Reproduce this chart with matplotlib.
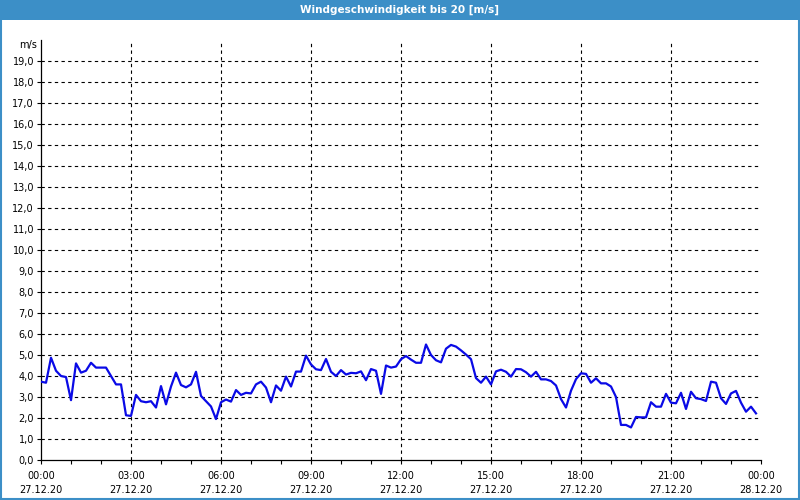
import matplotlib
matplotlib.use("Agg")
import matplotlib.pyplot as plt
import matplotlib.transforms as mtransforms
from matplotlib.patches import Rectangle
import numpy as np

# wind speed in m/s, 10-minute values from 00:00 to 23:50
wind = [3.73, 3.68, 4.87, 4.25, 4.0, 3.95, 2.85, 4.6, 4.16, 4.25,
        4.63, 4.4, 4.4, 4.4, 4.0, 3.6, 3.6, 2.13, 2.1, 3.1,
        2.8, 2.75, 2.8, 2.5, 3.52, 2.65, 3.5, 4.16, 3.57, 3.46,
        3.6, 4.2, 3.05, 2.8, 2.55, 1.95, 2.75, 2.88, 2.78, 3.33,
        3.1, 3.2, 3.17, 3.6, 3.73, 3.45, 2.75, 3.55, 3.3, 3.97,
        3.5, 4.21, 4.21, 4.97, 4.55, 4.32, 4.28, 4.81, 4.2, 4.0,
        4.28, 4.07, 4.15, 4.13, 4.22, 3.8, 4.33, 4.25, 3.15, 4.5,
        4.4, 4.45, 4.8, 4.95, 4.78, 4.63, 4.63, 5.5, 5.0, 4.75,
        4.65, 5.3, 5.48, 5.4, 5.22, 5.02, 4.8, 3.9, 3.68, 3.97,
        3.6, 4.22, 4.3, 4.2, 3.97, 4.33, 4.32, 4.18, 3.97, 4.2,
        3.84, 3.84, 3.76, 3.55, 2.9, 2.5, 3.3, 3.85, 4.13, 4.1,
        3.68, 3.89, 3.65, 3.65, 3.5, 3.0, 1.67, 1.67, 1.55, 2.05,
        2.03, 2.03, 2.75, 2.54, 2.54, 3.15, 2.73, 2.7, 3.2, 2.43,
        3.25, 2.94, 2.9, 2.81, 3.73, 3.68, 2.94, 2.67, 3.17, 3.29,
        2.73, 2.3, 2.54, 2.22]
hours = np.arange(len(wind)) / 6.0

x_major = [0, 3, 6, 9, 12, 15, 18, 21, 24]
x_labels = ["00:00\n27.12.20", "03:00\n27.12.20", "06:00\n27.12.20",
            "09:00\n27.12.20", "12:00\n27.12.20", "15:00\n27.12.20",
            "18:00\n27.12.20", "21:00\n27.12.20", "00:00\n28.12.20"]
y_ticks = list(range(0, 20))
y_labels = ["%d,0" % v for v in y_ticks]

title = "Windgeschwindigkeit bis 20 [m/s]"
blue_bar = "#3c8fc7"

plt.rcParams['font.family'] = ['DejaVu Sans']
fig = plt.figure(figsize=(8, 5), dpi=100)
fig.patch.set_facecolor("white")

# title bar and frame
fig.patches.append(Rectangle((0, 0.96), 1, 0.04, transform=fig.transFigure,
                             facecolor=blue_bar, edgecolor="none", zorder=0))
fig.patches.append(Rectangle((0.001, 0.002), 0.998, 0.996, transform=fig.transFigure,
                             facecolor="none", edgecolor=blue_bar, lw=1.5, zorder=5))
fig.text(0.5, 0.98, title, color="white", fontsize=7.5, fontweight="bold",
         ha="center", va="center")

ax = fig.add_axes([41 / 800, 40 / 500, 720 / 800, 420 / 500])
ax.plot(hours, wind, color="#0a0ae6", lw=1.6, zorder=3)

ax.set_xlim(0, 24)
ax.set_ylim(0, 20)
ax.set_xticks(x_major)
ax.set_xticklabels(x_labels, fontsize=7)
for lab in ax.get_xticklabels():
    lab.set_linespacing(1.5)
ax.set_xticks(np.arange(0, 25, 1), minor=True)
ax.set_yticks(y_ticks)
ax.set_yticklabels(y_labels, fontsize=7)

ax.tick_params(axis="both", which="both", direction="out", length=3, width=0.8, pad=2)
ax.tick_params(axis="x", which="major", pad=5)

for sp in ["top", "right"]:
    ax.spines[sp].set_visible(False)
for sp in ["left", "bottom"]:
    ax.spines[sp].set_linewidth(0.9)

# dashed grid
for v in y_ticks[1:]:
    ax.axhline(v, color="black", lw=0.8, ls=(0, (3, 3)), zorder=1)
for h in x_major[1:-1]:
    ax.axvline(h, color="black", lw=0.8, ls=(0, (3, 3)), zorder=1)

trans = mtransforms.blended_transform_factory(ax.transAxes, ax.transData)
ax.text(-0.005, 19.75, "m/s", transform=trans, fontsize=7, ha="right", va="center")

fig.savefig("out.png", dpi=100)
